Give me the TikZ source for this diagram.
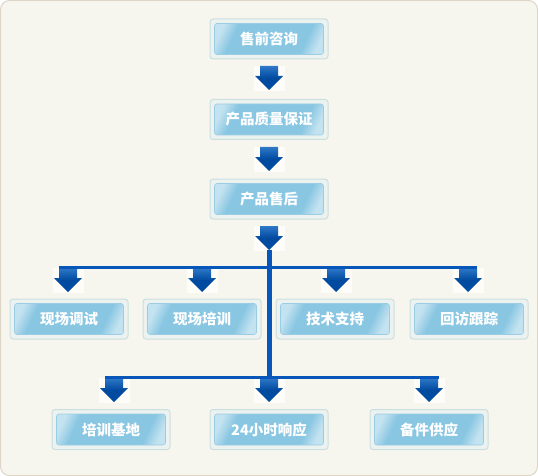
\documentclass[tikz,border=0pt]{standalone}
\usepackage{fontspec}
\newfontfamily\cjk{Noto Sans CJK SC}
\definecolor{bgc}{HTML}{F7F6EE}
\definecolor{bgline}{HTML}{DDD5C6}
\definecolor{outfill}{HTML}{ECF2EF}
\definecolor{outline}{HTML}{CADFE0}
\definecolor{basebl}{HTML}{88C6E2}
\definecolor{hibl}{HTML}{C4E3F0}
\definecolor{inline}{HTML}{9ACDE4}
\definecolor{linebl}{HTML}{0757BA}
\definecolor{arrdark}{HTML}{004AA0}
\definecolor{arrtop}{HTML}{2F78C8}
\definecolor{arrbg}{HTML}{FEFCF8}
\pgfdeclarehorizontalshading{boxshade}{100bp}{color(0bp)=(hibl); color(22bp)=(hibl); color(30bp)=(basebl); color(70bp)=(basebl); color(78bp)=(hibl); color(100bp)=(hibl)}
\tikzset{
  outerbox/.style={draw=outline, fill=outfill, line width=1pt, rounded corners=3pt,
    minimum width=118pt, minimum height=40pt, inner sep=0pt},
  innerbox/.style={draw=inline, line width=0.6pt, shading=boxshade, shading angle=-25,
    rounded corners=2.5pt, minimum width=109pt, minimum height=31pt, inner sep=0pt,
    text=white, font=\cjk\bfseries\fontsize{14.5}{14.5}\selectfont},
  hline/.style={draw=linebl, line width=3pt},
  vline/.style={draw=linebl, line width=5pt},
}
\newcommand\mkbox[4]{%
  \node[outerbox] (o#1) at (#2,#3) {};
  \node[innerbox] (#1) at (o#1.center) {#4};}
\newcommand\dnarrow[2]{%
  \fill[arrbg] (#1-15,#2) rectangle (#1+16,#2+25);
  \shade[top color=arrtop, bottom color=arrdark, middle color=arrdark]
    (#1-9,#2) -- (#1+9,#2) -- (#1+9,#2+10) -- (#1+14,#2+10) -- (#1,#2+24)
    -- (#1-14,#2+10) -- (#1-9,#2+10) -- cycle;}
\begin{document}
\begin{tikzpicture}[x=1pt,y=-1pt]
\useasboundingbox (0,0) rectangle (538,476);
\draw[fill=bgc, draw=bgline, line width=1pt, rounded corners=9pt] (0.5,0.5) rectangle (537.5,475.5);

% main column
\mkbox{b1}{269}{39}{售前咨询}
\mkbox{b2}{269}{119.5}{产品质量保证}
\mkbox{b3}{269}{199}{产品售后}
\dnarrow{269}{66}
\dnarrow{269}{147}
\dnarrow{269}{226}

% row 2
\mkbox{c1}{69}{319}{现场调试}
\mkbox{c2}{202}{319}{现场培训}
\mkbox{c3}{335}{319}{技术支持}
\mkbox{c4}{469}{319}{回访跟踪}
\dnarrow{68}{268}
\dnarrow{202}{268}
\dnarrow{336}{268}
\dnarrow{468}{268}

% row 3
\mkbox{d1}{111}{429.5}{培训基地}
\mkbox{d2}{269}{429.5}{24小时响应}
\mkbox{d3}{429}{429.5}{备件供应}
\dnarrow{114}{378}
\dnarrow{269}{378}
\dnarrow{429}{378}

% connectors
\coordinate (vtop) at (269,250);
\coordinate (vbot) at (269,378);
\coordinate (h1l) at (59,267.5);
\coordinate (h1r) at (477,267.5);
\coordinate (h2l) at (105,377.5);
\coordinate (h2r) at (439,377.5);
\draw[hline] (h1l) -- (h1r);
\draw[hline] (h2l) -- (h2r);
\draw[vline] (vtop) -- (vbot);
\end{tikzpicture}
\end{document}
